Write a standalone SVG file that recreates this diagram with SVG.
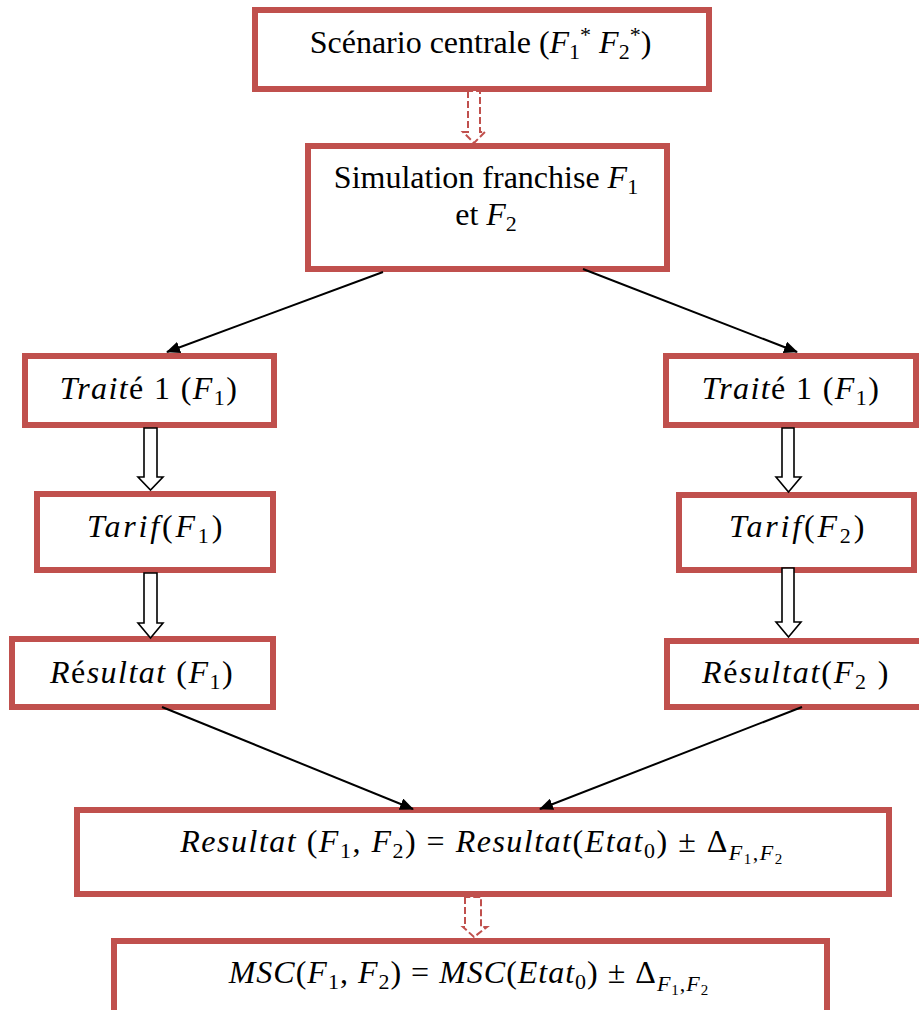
<svg xmlns="http://www.w3.org/2000/svg" width="919" height="1010" viewBox="0 0 919 1010">
<style>
.box{fill:#fff;stroke:#C0504D;stroke-width:6}
.t{font-family:"Liberation Serif",serif;font-size:32px;fill:#000}
.it{font-style:italic}
.sb{font-size:22px}
.ssb{font-size:15px}
.conn{stroke:#000;stroke-width:2;fill:none;marker-end:url(#ah)}
.blk{fill:#fff;stroke:#000;stroke-width:1.6}
.dsh{fill:#fff;stroke:#C0504D;stroke-width:2;stroke-dasharray:7 3}
</style>
<defs>
<marker id="ah" markerUnits="userSpaceOnUse" markerWidth="14" markerHeight="12" refX="13" refY="6" orient="auto">
<path d="M0,0 L14,6 L0,12 Z" fill="#000"/>
</marker>
</defs>
<g id="n-scenario">
<rect class="box" x="255" y="10" width="454" height="79"/>
<text class="t" x="480.5" y="53" text-anchor="middle">Scénario centrale (<tspan class="it">F</tspan><tspan class="sb" dy="6">1</tspan><tspan class="sb" dy="-17">*</tspan><tspan dy="11"> </tspan><tspan class="it">F</tspan><tspan class="sb" dy="6">2</tspan><tspan class="sb" dy="-17">*</tspan><tspan dy="11">)</tspan></text>
</g>
<g id="n-simulation">
<rect class="box" x="308" y="146" width="359" height="123"/>
<text class="t" x="486" y="188" text-anchor="middle">Simulation franchise <tspan class="it">F</tspan><tspan class="sb" dy="6">1</tspan></text>
<text class="t" x="486" y="225" text-anchor="middle">et <tspan class="it">F</tspan><tspan class="sb" dy="6">2</tspan></text>
</g>
<g id="n-traite-left">
<rect class="box" x="25" y="356" width="249" height="69"/>
<text class="t" x="149" y="399" text-anchor="middle" letter-spacing="1.4"><tspan class="it">Trait</tspan>é 1 (<tspan class="it">F</tspan><tspan class="sb" dy="6">1</tspan><tspan dy="-6">)</tspan></text>
</g>
<g id="n-tarif-left">
<rect class="box" x="37" y="494" width="236" height="76"/>
<text class="t" x="156" y="537" text-anchor="middle" letter-spacing="2.8"><tspan class="it">Tarif</tspan>(<tspan class="it">F</tspan><tspan class="sb" dy="6">1</tspan><tspan dy="-6">)</tspan></text>
</g>
<g id="n-resultat-left">
<rect class="box" x="12" y="639" width="261" height="68"/>
<text class="t" x="142" y="683" text-anchor="middle" letter-spacing="1.5"><tspan class="it">R</tspan>é<tspan class="it">sultat</tspan> (<tspan class="it">F</tspan><tspan class="sb" dy="6">1</tspan><tspan dy="-6">)</tspan></text>
</g>
<g id="n-traite-right">
<rect class="box" x="666" y="356" width="250" height="69"/>
<text class="t" x="791" y="399" text-anchor="middle" letter-spacing="1.4"><tspan class="it">Trait</tspan>é 1 (<tspan class="it">F</tspan><tspan class="sb" dy="6">1</tspan><tspan dy="-6">)</tspan></text>
</g>
<g id="n-tarif-right">
<rect class="box" x="679" y="495" width="235" height="75"/>
<text class="t" x="798" y="537" text-anchor="middle" letter-spacing="2.8"><tspan class="it">Tarif</tspan>(<tspan class="it">F</tspan><tspan class="sb" dy="6">2</tspan><tspan dy="-6">)</tspan></text>
</g>
<g id="n-resultat-right">
<rect class="box" x="667" y="641" width="260" height="66"/>
<text class="t" x="796" y="683" text-anchor="middle" letter-spacing="1.8"><tspan class="it">R</tspan>é<tspan class="it">sultat</tspan>(<tspan class="it">F</tspan><tspan class="sb" dy="6">2</tspan><tspan dy="-6"> )</tspan></text>
</g>
<g id="n-resultat-total">
<rect class="box" x="77" y="810" width="812" height="84"/>
<text class="t" x="482" y="852" text-anchor="middle" letter-spacing="1.5"><tspan class="it">Resultat</tspan> (<tspan class="it">F</tspan><tspan class="sb" dy="6">1</tspan><tspan dy="-6">, </tspan><tspan class="it">F</tspan><tspan class="sb" dy="6">2</tspan><tspan dy="-6">) = </tspan><tspan class="it">Resultat</tspan>(<tspan class="it">Etat</tspan><tspan class="sb" dy="6">0</tspan><tspan dy="-6">) ± Δ</tspan><tspan class="it sb" dy="8">F</tspan><tspan class="ssb" dy="4">1</tspan><tspan class="sb" dy="-4">,</tspan><tspan class="it sb">F</tspan><tspan class="ssb" dy="4">2</tspan></text>
</g>
<g id="n-msc">
<rect class="box" x="114" y="941" width="713" height="76"/>
<text class="t" x="469" y="983" text-anchor="middle" letter-spacing="1"><tspan class="it">MSC</tspan>(<tspan class="it">F</tspan><tspan class="sb" dy="6">1</tspan><tspan dy="-6">, </tspan><tspan class="it">F</tspan><tspan class="sb" dy="6">2</tspan><tspan dy="-6">) = </tspan><tspan class="it">MSC</tspan>(<tspan class="it">Etat</tspan><tspan class="sb" dy="6">0</tspan><tspan dy="-6">) ± Δ</tspan><tspan class="it sb" dy="8">F</tspan><tspan class="ssb" dy="4">1</tspan><tspan class="sb" dy="-4">,</tspan><tspan class="it sb">F</tspan><tspan class="ssb" dy="4">2</tspan></text>
</g>
<g id="connectors">
<path class="dsh" d="M468,91 V132 H463 L474,143 L485,132 H480 V91 Z"/>
<line class="conn" x1="383" y1="272" x2="167" y2="352"/>
<line class="conn" x1="583" y1="269" x2="797" y2="352"/>
<path class="blk" d="M144,428 V477 H138 L150.5,490 L163,477 H157 V428 Z"/>
<path class="blk" d="M144,573 V623 H138 L150.5,638 L163,623 H157 V573 Z"/>
<path class="blk" d="M782,428 V477 H776 L788.5,492 L801,477 H794 V428 Z"/>
<path class="blk" d="M782,568 V622 H776 L788.5,637 L801,622 H794 V568 Z"/>
<line class="conn" x1="162" y1="707" x2="413" y2="809"/>
<line class="conn" x1="802" y1="707" x2="540" y2="809"/>
<path class="dsh" d="M465,897 V927 H463 L474,937 L487,927 H481 V897 Z"/>
</g>
</svg>
